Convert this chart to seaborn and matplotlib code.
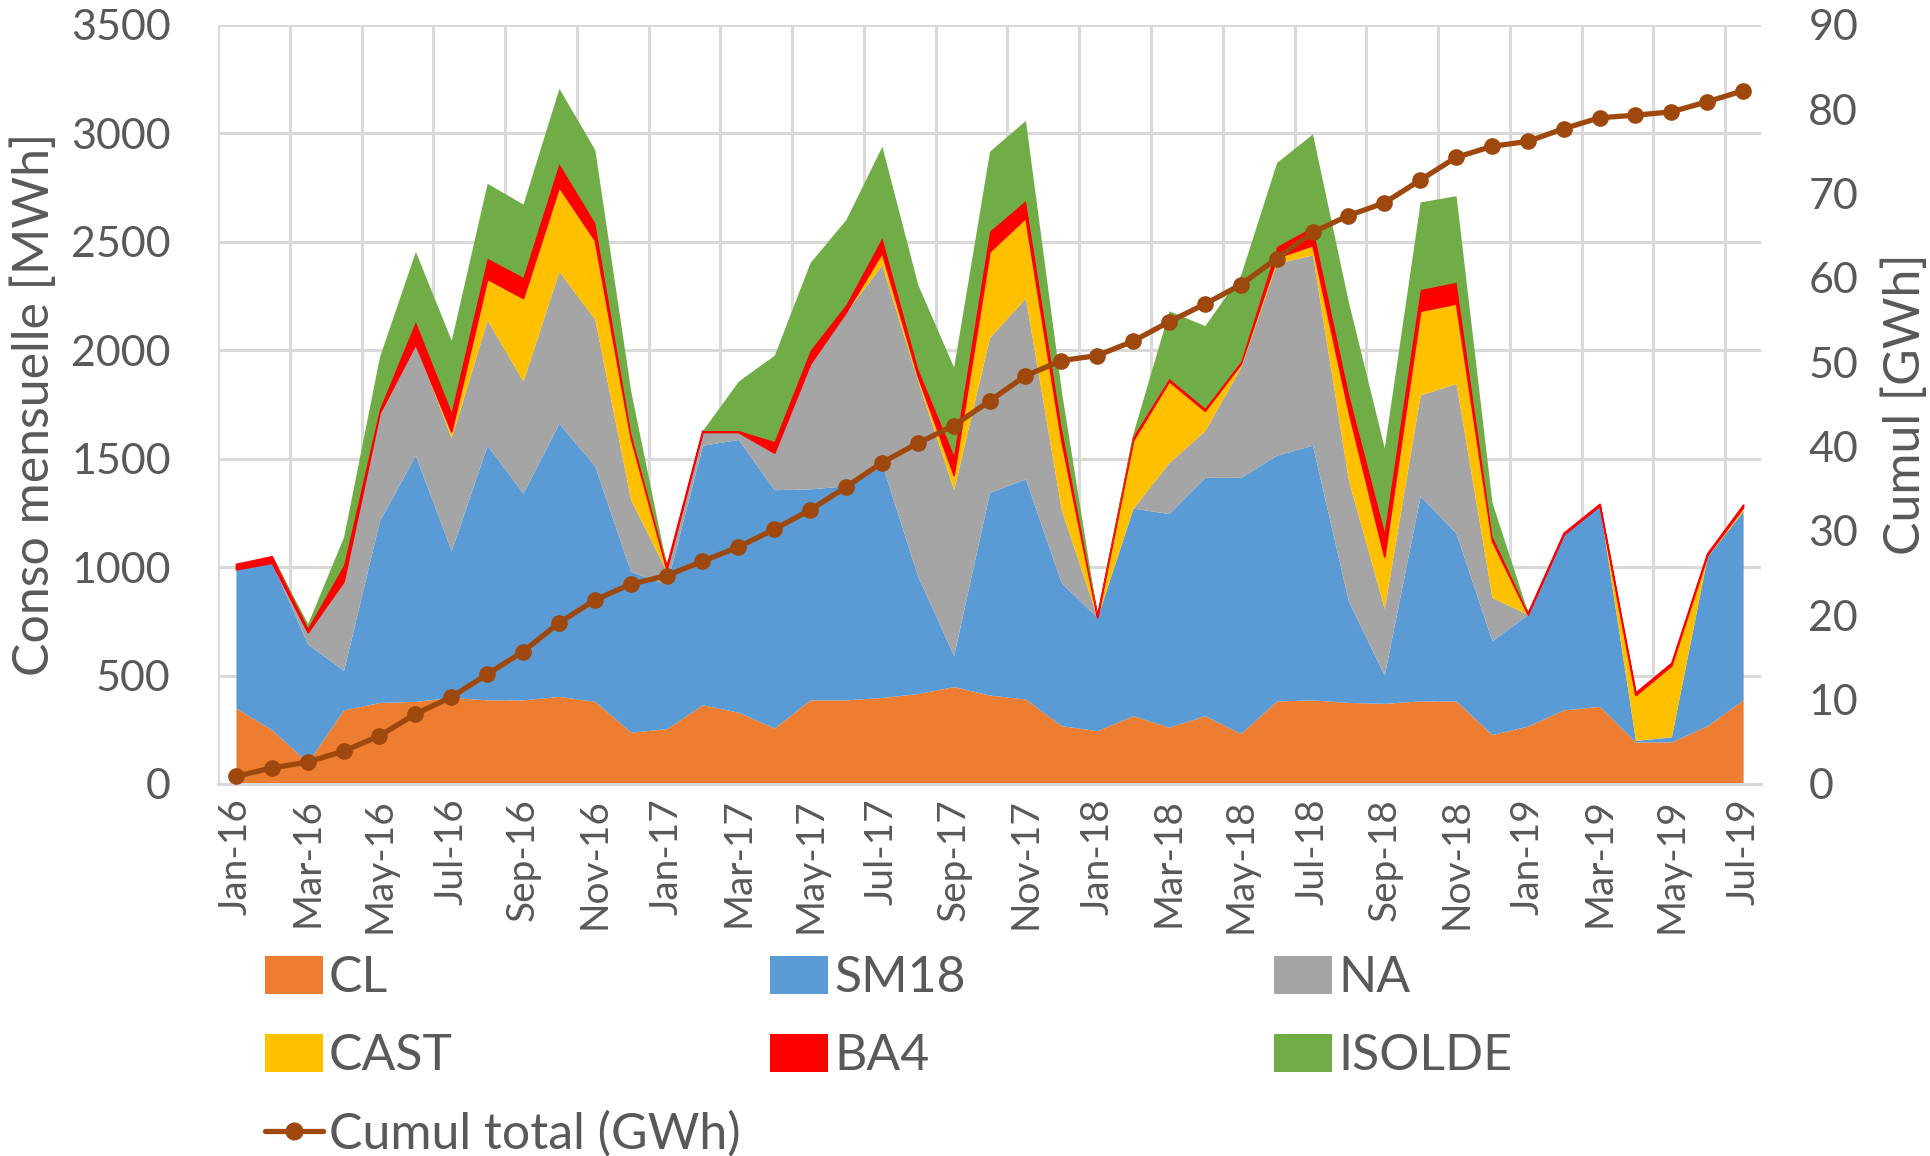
import numpy as np
import matplotlib
matplotlib.use("Agg")
import matplotlib.pyplot as plt
import seaborn as sns
from matplotlib.patches import Patch
from matplotlib.lines import Line2D

# Monthly consumption per user [MWh], Jan-16 .. Jul-19
months = ['Jan-16', 'Feb-16', 'Mar-16', 'Apr-16', 'May-16', 'Jun-16', 'Jul-16', 'Aug-16',
          'Sep-16', 'Oct-16', 'Nov-16', 'Dec-16', 'Jan-17', 'Feb-17', 'Mar-17', 'Apr-17',
          'May-17', 'Jun-17', 'Jul-17', 'Aug-17', 'Sep-17', 'Oct-17', 'Nov-17', 'Dec-17',
          'Jan-18', 'Feb-18', 'Mar-18', 'Apr-18', 'May-18', 'Jun-18', 'Jul-18', 'Aug-18',
          'Sep-18', 'Oct-18', 'Nov-18', 'Dec-18', 'Jan-19', 'Feb-19', 'Mar-19', 'Apr-19',
          'May-19', 'Jun-19', 'Jul-19']

cl = [350, 250, 100, 342, 376, 381, 399, 388, 388, 404, 381, 239, 255, 365, 331, 258,
      388, 388, 399, 417, 449, 410, 392, 269, 246, 315, 262, 315, 233, 383, 388, 376,
      372, 383, 383, 228, 267, 342, 358, 194, 194, 269, 388]
sm18 = [640, 770, 545, 182, 839, 1135, 677, 1174, 953, 1260, 1085, 741, 665, 1197, 1258, 1099,
        973, 987, 1076, 541, 144, 935, 1015, 659, 522, 957, 985, 1099, 1181, 1133, 1174, 468,
        130, 946, 773, 433, 515, 809, 926, 7, 23, 780, 871]
na = [0, 0, 55, 411, 484, 513, 520, 577, 517, 700, 677, 331, 60, 61, 34, 171,
      577, 802, 919, 900, 764, 714, 834, 337, 0, 0, 235, 216, 508, 885, 878, 558,
      307, 465, 691, 199, 0, 0, 0, 0, 0, 0, 0]
cast = [0, 0, 0, 0, 10, 0, 30, 191, 383, 390, 365, 285, 10, 0, 0, 0,
        0, 0, 57, 23, 68, 397, 370, 320, 0, 313, 376, 91, 16, 27, 45, 319,
        240, 388, 369, 262, 0, 0, 0, 209, 330, 7, 18]
ba4 = [25, 30, 20, 75, 22, 103, 90, 94, 96, 107, 80, 23, 15, 7, 7, 52,
       62, 35, 68, 34, 91, 93, 79, 57, 8, 18, 12, 12, 11, 50, 85, 80,
       114, 98, 98, 23, 8, 8, 8, 12, 12, 8, 11]
isolde = [0, 0, 20, 130, 240, 324, 330, 346, 337, 347, 337, 194, 0, 0, 228, 397,
          405, 392, 422, 388, 406, 369, 370, 171, 0, 16, 312, 381, 399, 388, 428, 422,
          387, 404, 399, 155, 0, 0, 0, 0, 0, 0, 0]

# cumulative total [GWh] (right axis)
cumul = [0.9, 1.9, 2.6, 3.9, 5.7, 8.3, 10.3, 13.0, 15.7, 19.1, 21.8, 23.7, 24.7, 26.4,
         28.1, 30.2, 32.5, 35.2, 38.1, 40.4, 42.5, 45.4, 48.4, 50.2, 50.8, 52.5, 54.8,
         56.9, 59.2, 62.3, 65.4, 67.4, 68.9, 71.6, 74.3, 75.6, 76.2, 77.7, 79.0, 79.3,
         79.7, 80.9, 82.2]

series_names = ['CL', 'SM18', 'NA', 'CAST', 'BA4', 'ISOLDE']
colors = ['#ED7D31', '#5B9BD5', '#A5A5A5', '#FFC000', '#FF0000', '#70AD47']
line_color = '#9E480E'
text_color = '#595959'
grid_color = '#D9D9D9'

sns.set_theme(style='white')
plt.rcParams['font.family'] = ['Lato', 'DejaVu Sans']
fs = 29
fs_big = 36

fig = plt.figure(figsize=(19.31, 11.56), dpi=100)
ax = fig.add_axes([0.1129, 0.3218, 0.7991, 0.6566])

x = np.arange(len(months))
polys = ax.stackplot(x, cl, sm18, na, cast, ba4, isolde, colors=colors, linewidth=0)
polys[4].set_edgecolor('#FF0000')
polys[4].set_linewidth(1.2)

ax.set_xlim(-0.5, len(months) - 0.5)
ax.set_ylim(0, 3500)
ax.set_yticks(np.arange(0, 3501, 500))
ax.set_xticks(x[::2])
ax.set_xticklabels(months[::2], rotation=90)
ax.set_xticks(np.arange(-0.5, len(months) - 1, 2), minor=True)
ax.set_axisbelow(True)
ax.grid(axis='y', which='major', color=grid_color, linewidth=2.2)
ax.grid(axis='x', which='minor', color=grid_color, linewidth=2.2)
ax.grid(axis='x', which='major', visible=False)
ax.tick_params(axis='x', which='major', length=0, pad=10, labelsize=fs - 1, labelcolor=text_color)
ax.tick_params(axis='x', which='minor', length=10, width=2, color=grid_color, direction='out')
ax.tick_params(axis='y', length=0, pad=34, labelsize=fs + 2, labelcolor=text_color)
for side in ['top', 'right', 'left']:
    ax.spines[side].set_visible(False)
ax.spines['bottom'].set_color(grid_color)
ax.spines['bottom'].set_linewidth(2.2)

ax2 = ax.twinx()
sns.lineplot(x=x, y=cumul, ax=ax2, color=line_color, marker='o', markersize=12,
             markeredgewidth=0, linewidth=3.8, legend=False)
ax2.set_ylim(0, 90)
ax2.set_yticks(np.arange(0, 91, 10))
ax2.grid(False)
ax2.set_ylabel('')
ax2.tick_params(axis='y', length=0, pad=34, labelsize=fs + 2, labelcolor=text_color)
for side in ['top', 'right', 'left', 'bottom']:
    ax2.spines[side].set_visible(False)

fig.text(0.018, 0.65, 'Conso mensuelle [MWh]', rotation=90, ha='center', va='center',
         fontsize=fs_big, color=text_color)
fig.text(0.987, 0.65, 'Cumul [GWh]', rotation=90, ha='center', va='center',
         fontsize=fs_big, color=text_color)

# legend: three columns laid out row by row
h = [Patch(facecolor=c, edgecolor='none') for c in colors]
h_line = Line2D([], [], color=line_color, linewidth=3.8, marker='o', markersize=12)
leg_kw = dict(loc='upper left', frameon=False, fontsize=fs_big, labelcolor=text_color,
              borderpad=0, borderaxespad=0, handlelength=1.16, handleheight=0.8,
              handletextpad=0.12, labelspacing=0.64)
cols = [([h[0], h[3], h_line], ['CL', 'CAST', 'Cumul total (GWh)'], 0.137),
        ([h[1], h[4]], ['SM18', 'BA4'], 0.399),
        ([h[2], h[5]], ['NA', 'ISOLDE'], 0.66)]
for handles, labels, xpos in cols:
    fig.legend(handles, labels, bbox_to_anchor=(xpos, 0.1737), **leg_kw)

fig.savefig('out.png', dpi=100)
